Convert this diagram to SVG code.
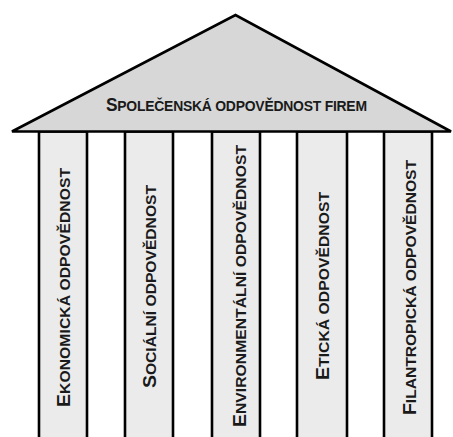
<svg xmlns="http://www.w3.org/2000/svg" width="453" height="437" viewBox="0 0 453 437">
  <style>
    .roof { fill: #d7d7d7; stroke: #000; stroke-width: 2.6; stroke-linejoin: miter; }
    .col { fill: #ebebeb; stroke: #000; stroke-width: 2.6; }
    .lbl { font-family: "Liberation Sans", Arial, sans-serif; font-weight: bold; fill: #1a1a1a; }
    .big { font-size: 18px; }
    .sm { font-size: 14.5px; }
  </style>
  <rect x="0" y="0" width="453" height="437" fill="#fff"/>
  <g id="columns-base">
    <g id="col1">
      <rect class="col" x="39" y="131.5" width="48" height="310"/>
      <text class="lbl" transform="translate(70,287.5) rotate(-90) scale(1.08,1)" text-anchor="middle" textLength="221.3" lengthAdjust="spacing"><tspan class="big">E</tspan><tspan class="sm">KONOMICKÁ ODPOVĚDNOST</tspan></text>
    </g>
    <g id="col2">
      <rect class="col" x="125" y="131.5" width="48" height="310"/>
      <text class="lbl" transform="translate(155.5,286.5) rotate(-90) scale(1.08,1)" text-anchor="middle" textLength="188" lengthAdjust="spacing"><tspan class="big">S</tspan><tspan class="sm">OCIÁLNÍ ODPOVĚDNOST</tspan></text>
    </g>
    <g id="col3">
      <rect class="col" x="212" y="131.5" width="48" height="310"/>
      <text class="lbl" transform="translate(245.5,286) rotate(-90) scale(1.08,1)" text-anchor="middle" textLength="261.1" lengthAdjust="spacing"><tspan class="big">E</tspan><tspan class="sm">NVIRONMENTÁLNÍ ODPOVĚDNOST</tspan></text>
    </g>
    <g id="col4">
      <rect class="col" x="297" y="131.5" width="50" height="310"/>
      <text class="lbl" transform="translate(328.5,286) rotate(-90) scale(1.08,1)" text-anchor="middle" textLength="174.1" lengthAdjust="spacing"><tspan class="big">E</tspan><tspan class="sm">TICKÁ ODPOVĚDNOST</tspan></text>
    </g>
    <g id="col5">
      <rect class="col" x="384" y="131.5" width="48" height="310"/>
      <text class="lbl" transform="translate(415.5,287.5) rotate(-90) scale(1.08,1)" text-anchor="middle" textLength="236.1" lengthAdjust="spacing"><tspan class="big">F</tspan><tspan class="sm">ILANTROPICKÁ ODPOVĚDNOST</tspan></text>
    </g>
  </g>
  <g id="roof">
    <polygon class="roof" points="12,131.5 235.5,15 451,131.5"/>
    <text class="lbl" transform="translate(236.5,111) scale(0.96,1)" text-anchor="middle" textLength="271.9" lengthAdjust="spacing"><tspan class="big">S</tspan><tspan class="sm">POLEČENSKÁ ODPOVĚDNOST FIREM</tspan></text>
  </g>
</svg>
